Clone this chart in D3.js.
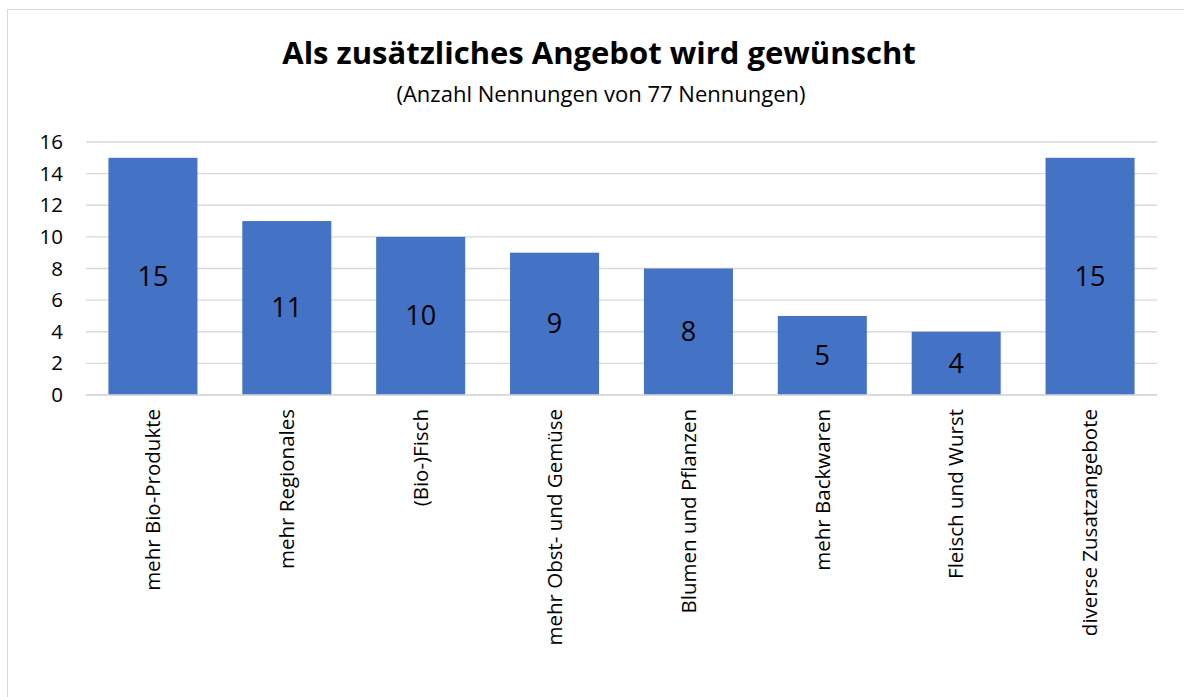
<!DOCTYPE html>
<html><head><meta charset="utf-8">
<script src="https://cdn.jsdelivr.net/npm/d3@7"></script>
<style>body{margin:0;background:#fff}svg{display:block}text{font-family:"Open Sans",Calibri,sans-serif}</style>
</head><body><svg id="c" width="1184" height="697"></svg>
<script>
const categories = ["mehr Bio-Produkte","mehr Regionales","(Bio-)Fisch","mehr Obst- und Gemüse","Blumen und Pflanzen","mehr Backwaren","Fleisch und Wurst","diverse Zusatzangebote"];
const values = [15,11,10,9,8,5,4,15];
const yTicks = [0,2,4,6,8,10,12,14,16];
const title = "Als zusätzliches Angebot wird gewünscht";
const subtitle = "(Anzahl Nennungen von 77 Nennungen)";

const svg = d3.select("#c");
svg.append("rect").attr("x",7.5).attr("y",9.5).attr("width",1200).attr("height",720).attr("fill","#fff").attr("stroke","#d9d9d9");

const x = d3.scaleBand().domain(categories).range([86,1157]).paddingInner(0.335).paddingOuter(0.1675);
const y = d3.scaleLinear().domain([0,16]).range([395,142]);

svg.append("g").selectAll("line").data(yTicks).join("line")
  .attr("x1",86).attr("x2",1157).attr("y1",d=>y(d)).attr("y2",d=>y(d))
  .attr("stroke","#d9d9d9").attr("stroke-width",1.3);

const yAxis = svg.append("g").attr("transform","translate(86,0)")
  .call(d3.axisLeft(y).tickValues(yTicks).tickSize(0).tickPadding(23));
yAxis.select(".domain").remove();
yAxis.selectAll("text").attr("font-size",20.5).attr("fill","#000").style("font-family","'Open Sans',sans-serif");

svg.append("g").selectAll("rect").data(values).join("rect")
  .attr("x",(d,i)=>x(categories[i])).attr("width",x.bandwidth())
  .attr("y",d=>y(d)).attr("height",d=>y(0)-y(d)).attr("fill","#4472c4");

svg.append("g").selectAll("text").data(values).join("text")
  .attr("x",(d,i)=>x(categories[i])+x.bandwidth()/2)
  .attr("y",d=>(y(d)+y(0))/2).attr("dy","0.35em")
  .attr("text-anchor","middle").attr("font-size",27).attr("fill","#000").text(d=>d);

const xAxis = svg.append("g").attr("transform","translate(0,395)")
  .call(d3.axisBottom(x).tickSize(0).tickPadding(0));
xAxis.select(".domain").remove();
xAxis.selectAll("text").attr("transform","rotate(-90)").attr("text-anchor","end")
  .attr("x",-14).attr("y",0).attr("dy","0.35em").attr("font-size",20.5).attr("fill","#000")
  .style("font-family","'Open Sans',sans-serif");
svg.append("line").attr("x1",86).attr("x2",1157).attr("y1",395).attr("y2",395).attr("stroke","#d9d9d9").attr("stroke-width",1.3);

svg.append("text").attr("x",599).attr("y",64).attr("text-anchor","middle").attr("font-size",31).attr("font-weight","bold").text(title);
svg.append("text").attr("x",601).attr("y",102).attr("text-anchor","middle").attr("font-size",22).text(subtitle);
</script></body></html>
